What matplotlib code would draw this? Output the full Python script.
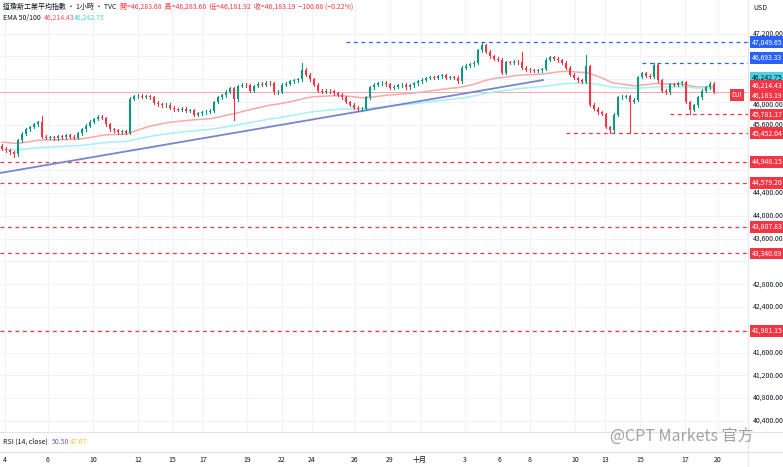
import matplotlib
matplotlib.use("Agg")
import matplotlib.pyplot as plt
import matplotlib.transforms as mtrans
import numpy as np
import pandas as pd

plt.rcParams['font.family'] = ['Noto Sans CJK TC', 'DejaVu Sans']

closes = [45180,45150,45120,45080,45330,45440,45520,45560,45610,45640,45390,45370,45380,45360,45400,45380,
45420,45390,45370,45450,45520,45580,45650,45700,45740,45720,45610,45520,45500,45470,45490,45460,46060,46100,
46110,46090,46100,46080,45990,45960,45940,45950,45900,45870,45860,45880,45850,45860,45780,45800,45820,45830,
45850,46000,46080,46120,46180,46240,46050,46280,46300,46290,46200,46280,46320,46300,46340,46330,46170,46180,
46300,46320,46360,46380,46400,46570,46480,46400,46300,46200,46180,46200,46190,46150,46130,46080,46000,45950,
45900,45870,45880,46080,46260,46300,46330,46340,46310,46250,46270,46290,46300,46260,46290,46330,46360,46390,
46420,46440,46430,46450,46470,46420,46440,46430,46360,46600,46640,46660,46690,46910,47000,46880,46800,46760,
46740,46510,46700,46690,46710,46700,46600,46570,46560,46550,46560,46580,46740,46790,46760,46730,46690,46600,
46480,46420,46380,46350,46630,45950,45880,45820,45790,45560,45500,45780,46080,46090,46100,46000,46040,46440,
46510,46460,46440,46650,46380,46200,46170,46310,46300,46330,46350,46000,45860,45940,46080,46200,46260,46320,46183]
first_open = 45230
wick_highs = {10: 45760, 75: 46690, 120: 47050, 130: 46880, 146: 46820, 163: 46693}
wick_lows = {3: 45040, 58: 45680, 152: 45452, 157: 45452, 172: 45781}

tick_pos = [0.75, 11.5, 22.75, 34, 42.5, 50.25, 61.25, 70, 77.5, 88.25, 97, 104.5, 115.75, 124.5, 132, 143.25, 150.75, 159.5, 170.75, 179]
tick_labels = ['4','6','10','12','15','17','19','22','24','26','29','十月','3','6','8','10','13','15','17','20']

trend_x = [-0.5, 135.25]
trend_y = [44753, 46386]

levels_full = [44948.15, 44579.20, 43807.83, 43340.69, 41981.15]
levels_partial = [(47049.65, 86, '#2962ff'), (46693.33, 160, '#2962ff'), (45781.17, 167, '#f23645'), (45452.04, 141, '#f23645')]
ema50_seed, ema100_seed = 45300, 45160

GREEN, RED = '#089981', '#f23645'
FS = 5.0

fig = plt.figure(figsize=(7.83, 4.67), dpi=100)
H = 467
ax = fig.add_axes([0, (H-432)/H, 748/783, 432/H])
ax.set_xlim(-0.5, 186.5)
ax.set_ylim(40205, 47791)

n = len(closes)
x = np.arange(n)
c = np.array(closes, float)
o = np.concatenate([[first_open], c[:-1]])
hi = np.maximum(o, c) + 25
lo = np.minimum(o, c) - 25
for k, v in wick_highs.items(): hi[k] = v
for k, v in wick_lows.items(): lo[k] = v

for t in tick_pos:
    ax.axvline(t, color='#f0f3fa', lw=0.8, zorder=0)
for p in range(40400, 47600, 400):
    ax.axhline(p, color='#f0f3fa', lw=0.8, zorder=0)

s = pd.Series(np.concatenate([[ema50_seed], c]))
e50 = s.ewm(span=50, adjust=False).mean().values[1:]
s2 = pd.Series(np.concatenate([[ema100_seed], c]))
e100 = s2.ewm(span=100, adjust=False).mean().values[1:]
ax.plot(x, e50, color='#f7a9a8', lw=1.1, zorder=2)
ax.plot(x, e100, color='#a5f0f7', lw=1.1, zorder=2)
ax.plot(trend_x, trend_y, color='#7986cb', lw=1.3, zorder=2)

ax.axhline(closes[-1], color='#f23645', lw=0.6, alpha=0.5, zorder=1)
for lv in levels_full:
    ax.axhline(lv, color=RED, lw=0.9, ls=(0, (3, 3)), zorder=1)
for lv, start, col in levels_partial:
    ax.plot([start, 186.5], [lv, lv], color=col, lw=0.9, ls=(0, (3, 3)), zorder=1)

for i in range(n):
    col = GREEN if c[i] >= o[i] else RED
    ax.plot([x[i], x[i]], [lo[i], hi[i]], color=col, lw=0.8, zorder=3)
    b0, b1 = min(o[i], c[i]), max(o[i], c[i])
    if b1 - b0 < 8: b1 = b0 + 8
    ax.add_patch(plt.Rectangle((x[i]-0.35, b0), 0.7, b1-b0, color=col, zorder=4, lw=0))

for sp in ax.spines.values(): sp.set_visible(False)
ax.set_xticks([]); ax.set_yticks([])

trans = mtrans.blended_transform_factory(fig.transFigure, ax.transData)
for p in range(40400, 47600, 400):
    if p in (46400, 46800, 45200, 44800, 43200):
        continue
    ax.text(753/783, p - (40 if p == 46000 else 0), f'{p:,.2f}', transform=trans, fontsize=FS, color='#131722', va='center', ha='left')
labels = [(47049.65, 47049.65, '#2962ff', 'white'), (46693.33, 46770, '#2962ff', 'white'),
          (46242.75, 46430, '#4dd0e1', '#131722'), (46214.43, 46280, RED, 'white'),
          (46183.19, 46120, RED, 'white'), (45781.17, 45781.17, RED, 'white'), (45452.04, 45452.04, RED, 'white')] + \
         [(lv, lv, RED, 'white') for lv in levels_full]
for val, yp, bg, fg in labels:
    ax.text(752/783, yp, f'{val:,.2f}', transform=trans, fontsize=FS, color=fg, va='center', ha='left',
            bbox=dict(boxstyle='square,pad=0.25', fc=bg, ec='none'))
ax.text(737/783, 46120, 'DJI', transform=trans, fontsize=FS, color='white', va='center', ha='center',
        bbox=dict(boxstyle='square,pad=0.25', fc=RED, ec='none'))

fig.text(3/783, 1-7/H, '道瓊斯工業平均指數 · 1小時 · TVC', fontsize=FS, color='#131722', va='center')
fig.text(120/783, 1-7/H, '開=46,283.68  高=46,283.68  低=46,181.92  收=46,183.19  −100.68 (−0.22%)', fontsize=FS, color=RED, va='center')
fig.text(3/783, 1-18/H, 'EMA 50/100', fontsize=FS, color='#131722', va='center')
fig.text(44/783, 1-18/H, '46,214.43', fontsize=FS, color='#f7525f', va='center')
fig.text(74/783, 1-18/H, '46,242.75', fontsize=FS, color='#4dd0e1', va='center')
fig.text(753/783, 1-8/H, 'USD', fontsize=FS, color='#131722', va='center')

for yy in (432, 452):
    fig.add_artist(plt.Line2D([0, 1], [1-yy/H]*2, color='#e0e3eb', lw=0.8))
fig.add_artist(plt.Line2D([748/783]*2, [0, 1], color='#e0e3eb', lw=0.6))
fig.text(3/783, 1-442/H, 'RSI (14, close)', fontsize=FS, color='#131722', va='center')
fig.text(52/783, 1-442/H, '50.50', fontsize=FS, color='#7e57c2', va='center')
fig.text(70/783, 1-442/H, '47.07', fontsize=FS, color='#fbc02d', va='center')
fig.text(610/783, 1-437/H, '@CPT Markets 官方', fontsize=11.5, color='#9598a1', va='center', alpha=0.9)

xt = mtrans.blended_transform_factory(ax.transData, fig.transFigure)
for t, l in zip(tick_pos, tick_labels):
    ax.text(t, 1-460/H, l, transform=xt, fontsize=FS, color='#131722', ha='center', va='center', clip_on=False)

fig.savefig('out.png', dpi=100, facecolor='white')
